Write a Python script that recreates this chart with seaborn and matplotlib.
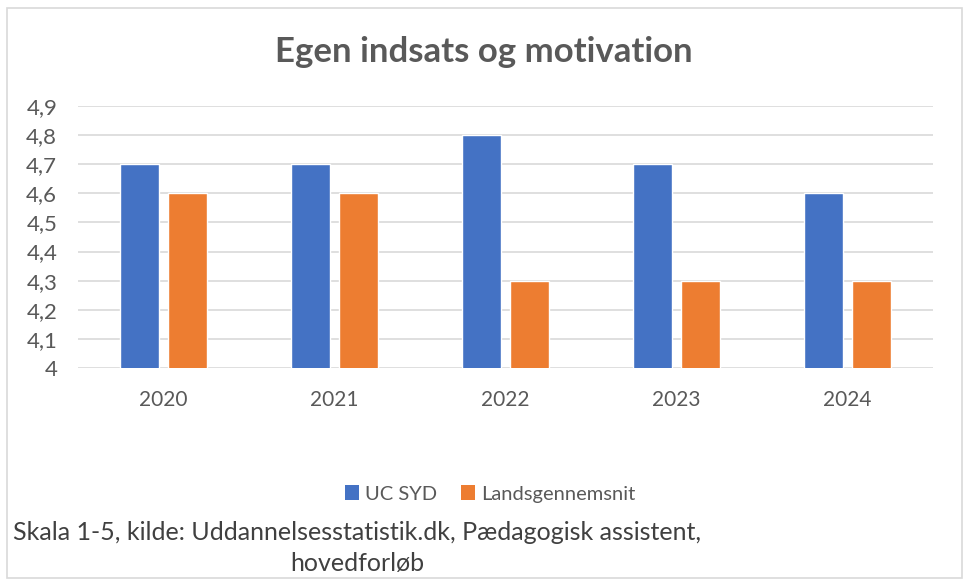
import matplotlib
matplotlib.use("Agg")
import matplotlib.pyplot as plt
import seaborn as sns
import pandas as pd
from matplotlib.patches import Rectangle, Patch
from matplotlib.ticker import FuncFormatter

years = ["2020", "2021", "2022", "2023", "2024"]
uc_syd = [4.7, 4.7, 4.8, 4.7, 4.6]
landsgennemsnit = [4.6, 4.6, 4.3, 4.3, 4.3]
series_names = ["UC SYD", "Landsgennemsnit"]
colors = ["#4472C4", "#ED7D31"]
title = "Egen indsats og motivation"
footer = "Skala 1-5, kilde: Uddannelsesstatistik.dk, Pædagogisk assistent,\nhovedforløb"

df = pd.DataFrame({
    "year": years * 2,
    "value": uc_syd + landsgennemsnit,
    "series": [series_names[0]] * len(years) + [series_names[1]] * len(years),
})

sns.set_theme(style="white")
plt.rcParams["font.family"] = ["Lato", "DejaVu Sans"]

W, H = 963, 580
fig = plt.figure(figsize=(W / 100, H / 100), dpi=100)
ax = fig.add_axes([78 / W, 1 - 368 / H, (933 - 78) / W, (368 - 106) / H])

sns.barplot(data=df, x="year", y="value", hue="series", palette=colors,
            width=0.567, gap=0.206, ax=ax, legend=False, saturation=1)
ax.set_ylim(4, 4.9)
ax.set_yticks([4 + i / 10 for i in range(10)])
ax.yaxis.set_major_formatter(FuncFormatter(lambda v, p: (f"{v:.1f}".rstrip("0").rstrip(".")).replace(".", ",")))
ax.grid(axis="y", color="#D9D9D9", linewidth=1.2)
ax.set_axisbelow(True)
for s in ax.spines.values():
    s.set_visible(False)
ax.set_xlabel("")
ax.set_ylabel("")
ax.tick_params(axis="y", labelsize=16, colors="#595959", length=0, pad=15)
ax.tick_params(axis="x", labelsize=15, colors="#595959", length=0, pad=16)

fig.text(484 / W, 1 - 52 / H, title, ha="center", va="center", fontsize=25,
         fontweight="bold", color="#595959")

handles = [Patch(facecolor=c, edgecolor="none") for c in colors]
fig.legend(handles, series_names, loc="center", bbox_to_anchor=(490 / W, 1 - 494 / H),
           ncol=2, frameon=False, fontsize=14.5, handlelength=0.7, handleheight=0.7,
           handletextpad=0.3, columnspacing=1.2, labelcolor="#595959")

fig.text(357 / W, 1 - 548 / H, footer, ha="center", va="center", fontsize=18,
         color="#404040", linespacing=1.45)

fig.patches.append(Rectangle((7 / W, 2 / H), (955 / W), (570 / H), transform=fig.transFigure,
                             fill=False, edgecolor="#D9D9D9", linewidth=1.2))

fig.savefig("out.png", dpi=100)
